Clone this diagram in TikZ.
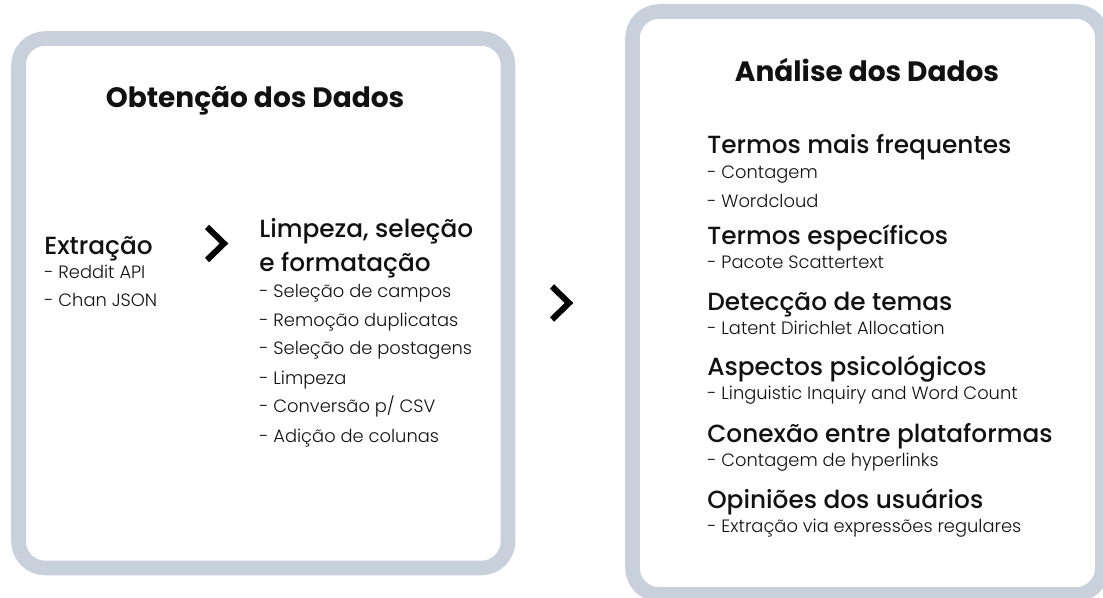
\documentclass[tikz,border=0pt]{standalone}
\usepackage{fontspec}
\setmainfont{Poppins}
\newfontfamily\headfont{Poppins Medium}
\newfontfamily\itemfont{Poppins Light}
\usepackage{xcolor}
\usetikzlibrary{positioning}
\definecolor{boxgray}{HTML}{C8D1DB}
\definecolor{inkblack}{HTML}{111111}

\tikzset{
  panel/.style={draw=boxgray, line width=10.9pt, rounded corners=20pt, fill=white},
  paneltitle/.style={anchor=base, inner sep=0pt, text=inkblack, font=\bfseries\fontsize{21}{25}\selectfont},
  head/.style={anchor=base west, inner sep=0pt, text=inkblack, font=\headfont\fontsize{18.6}{22}\selectfont},
  item/.style={anchor=base west, inner sep=0pt, text=inkblack, font=\itemfont\fontsize{13.4}{16}\selectfont},
  chev/.style={draw=black, line width=4.5pt}
}

\begin{document}
\begin{tikzpicture}[x=0.75pt, y=-0.75pt]
\useasboundingbox (0,0) rectangle (1103,598);
% the two panels
\draw[panel] (18.5,38.5) rectangle (508,568);
\draw[panel] (632.5,11.5) rectangle (1102.5,594.5);

\node[paneltitle] (obtencao) at (255,108) {Obtenção dos Dados};
\node[paneltitle] (analise) at (867,82) {Análise dos Dados};

% obtencao: extracao
\node[head] (extracao) at (44,255) {Extração};
\node[item] (reddit) at (44,279) {- Reddit API};
\node[item] (chan) at (44,307) {- Chan JSON};

% obtencao: limpeza
\node[head] (limpeza) at (259,238) {Limpeza, seleção};
\node[head] (formatacao) at (259,272) {e formatação};
\node[item] (campos) at (259,298) {- Seleção de campos};
\node[item] (duplic) at (259,327) {- Remoção duplicatas};
\node[item] (postagens) at (259,355) {- Seleção de postagens};
\node[item] (limp) at (259,385) {- Limpeza};
\node[item] (csv) at (259,413) {- Conversão p/ CSV};
\node[item] (colunas) at (259,442) {- Adição de colunas};

% analise
\node[head] (freq) at (707,154) {Termos mais frequentes};
\node[item] (contagem) at (707,179) {- Contagem};
\node[item] (wordcloud) at (707,208) {- Wordcloud};
\node[head] (especif) at (707,245) {Termos específicos};
\node[item] (scatter) at (707,269) {- Pacote Scattertext};
\node[head] (temas) at (707,311) {Detecção de temas};
\node[item] (lda) at (707,335) {- Latent Dirichlet Allocation};
\node[head] (psico) at (707,376) {Aspectos psicológicos};
\node[item] (liwc) at (707,400) {- Linguistic Inquiry and Word Count};
\node[head] (conexao) at (707,442) {Conexão entre plataformas};
\node[item] (hyper) at (707,466) {- Contagem de hyperlinks};
\node[head] (opinioes) at (707,508) {Opiniões dos usuários};
\node[item] (regex) at (707,532) {- Extração via expressões regulares};

% chevrons
\coordinate (chevA) at (216,243.5);
\coordinate (chevB) at (561,303);
\draw[chev] (chevA) ++(-9,-16.5) -- ++(17,16.5) -- ++(-17,16.5);
\draw[chev] (chevB) ++(-9,-16.5) -- ++(17,16.5) -- ++(-17,16.5);
\end{tikzpicture}
\end{document}
